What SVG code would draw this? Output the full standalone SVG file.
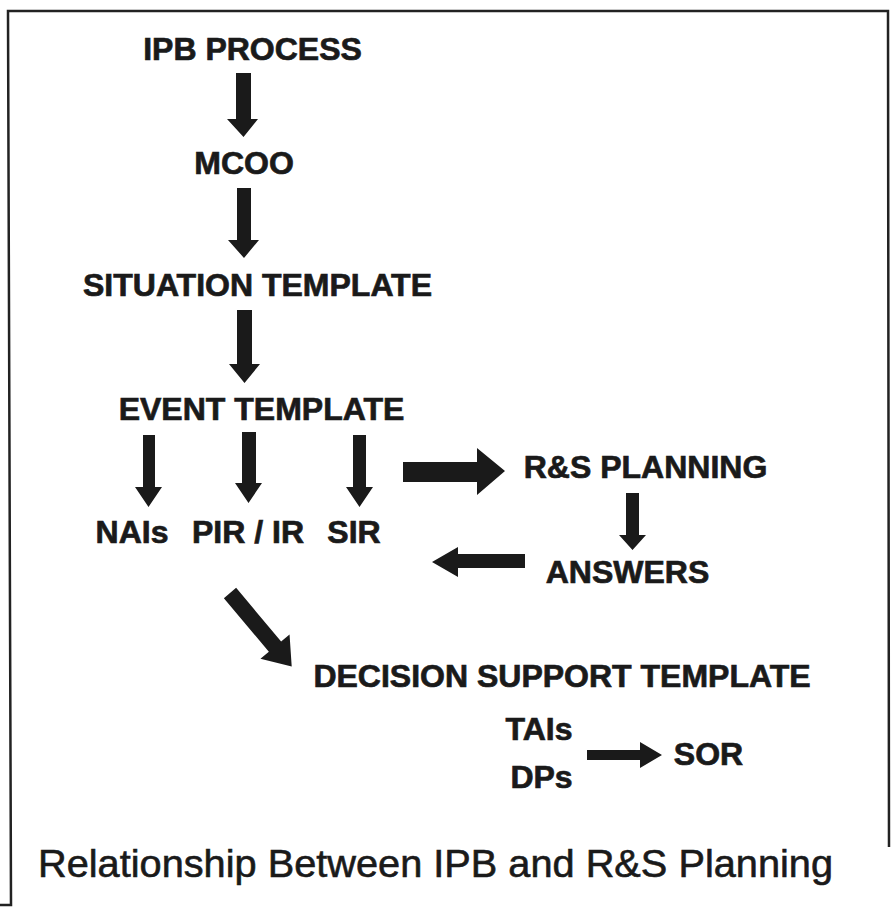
<svg xmlns="http://www.w3.org/2000/svg" width="891" height="907" viewBox="0 0 891 907">
<style>
.t{font-family:"Liberation Sans",Arial,Helvetica,sans-serif;font-weight:bold;font-size:32px;fill:#1a1a1a;stroke:#1a1a1a;stroke-width:0.7;text-anchor:middle}
.cap{font-family:"Liberation Sans",Arial,Helvetica,sans-serif;font-size:38px;fill:#1a1a1a;stroke:#1a1a1a;stroke-width:0.6}
.a{fill:#1a1a1a;stroke:none}
.frame{fill:none;stroke:#222;stroke-width:2.5}
</style>
<rect width="891" height="907" fill="#fff"/>
<polyline class="frame" points="0,905 11,905 8,11 888,11 889,847"/>
<g id="ipb"><text class="t" x="252.5" y="60">IPB PROCESS</text></g>
<g id="mcoo"><text class="t" x="244" y="174">MCOO</text></g>
<g id="situation"><text class="t" x="257.5" y="296">SITUATION TEMPLATE</text></g>
<g id="event"><text class="t" x="261.5" y="420">EVENT TEMPLATE</text></g>
<g id="nais"><text class="t" x="132" y="543">NAIs</text></g>
<g id="pir"><text class="t" x="248" y="543">PIR / IR</text></g>
<g id="sir"><text class="t" x="354" y="543">SIR</text></g>
<g id="rs"><text class="t" x="645.5" y="478">R&amp;S PLANNING</text></g>
<g id="answers"><text class="t" x="627.5" y="583">ANSWERS</text></g>
<g id="dst"><text class="t" x="562" y="687">DECISION SUPPORT TEMPLATE</text></g>
<g id="tais"><text class="t" x="539" y="740">TAIs</text></g>
<g id="dps"><text class="t" x="541.5" y="788">DPs</text></g>
<g id="sor"><text class="t" x="708.5" y="765">SOR</text></g>
<g id="caption"><text class="cap" x="38" y="877" textLength="795" lengthAdjust="spacingAndGlyphs">Relationship Between IPB and R&amp;S Planning</text></g>
<g id="connectors">
<polygon class="a" points="236,73 251,73 251,119 258,119 243.5,137 227,119 236,119"/>
<polygon class="a" points="237,188 251,188 251,240 259,240 244,258 228,240 237,240"/>
<polygon class="a" points="237,310 252,310 252,364 260,364 244.5,383 229,364 237,364"/>
<polygon class="a" points="143,435 155,435 155,487 162,487 148.5,507 135,487 143,487"/>
<polygon class="a" points="242,432 256,432 256,483 262,483 248.5,503 235,483 242,483"/>
<polygon class="a" points="353,435 366,435 366,487 373,487 359.5,507 346,487 353,487"/>
<polygon class="a" points="403,462 477,462 477,448 505,471 477,495 477,482 403,482"/>
<polygon class="a" points="626,493 639,493 639,535 646,535 632.5,550 619,535 626,535"/>
<polygon class="a" points="525,554 458,554 458,547 432,562 458,577 458,568 525,568"/>
<polygon class="a" points="587,750 640,750 640,742 662,755 640,768 640,760 587,760"/>
<polygon class="a" transform="translate(230,593) rotate(50)" points="0,-8 70,-8 70,-19 96,0 70,19 70,8 0,8"/>
</g>
</svg>
